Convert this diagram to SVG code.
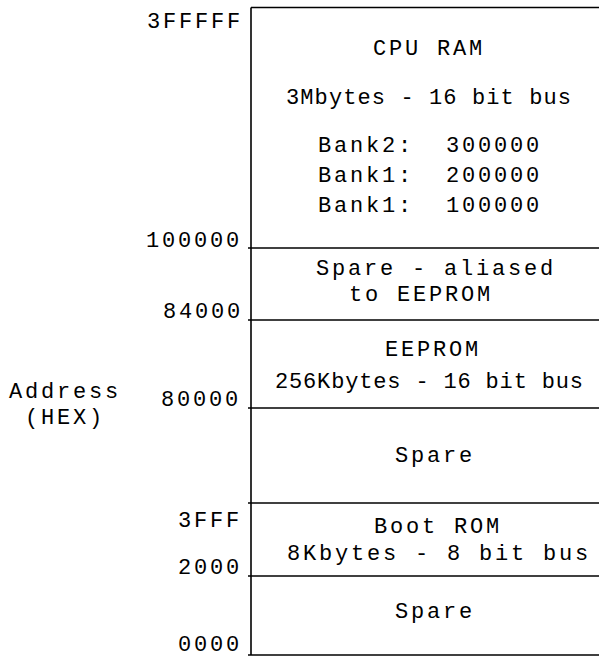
<svg xmlns="http://www.w3.org/2000/svg" width="599" height="658" viewBox="0 0 599 658">
<style>
text{font-family:"Liberation Mono","Courier New",monospace;font-size:22px;fill:#000;letter-spacing:2.8px}
text.tight{letter-spacing:0}
line{stroke:#000;stroke-width:1.6}
</style>
<rect width="599" height="658" fill="#fff"/>
<g id="axis">
<text x="9" y="398">Address</text>
<text x="25" y="424">(HEX)</text>
<text x="147" y="28">3FFFFF</text>
<text x="146" y="247">100000</text>
<text x="163" y="318">84000</text>
<text x="161" y="406">80000</text>
<text x="178" y="527">3FFF</text>
<text x="178" y="574">2000</text>
<text x="178" y="651">0000</text>
</g>
<g id="connectors">
<line x1="251" y1="7.5" x2="251" y2="655"/>
<line x1="251" y1="7.5" x2="599" y2="7.5"/>
<line x1="248" y1="248" x2="599" y2="248"/>
<line x1="248" y1="320" x2="599" y2="320"/>
<line x1="248" y1="408" x2="599" y2="408"/>
<line x1="248" y1="503" x2="599" y2="503"/>
<line x1="248" y1="576" x2="599" y2="576"/>
<line x1="248" y1="655" x2="599" y2="655"/>
</g>
<g id="cpu-ram">
<text x="373" y="55">CPU RAM</text>
<text class="tight" x="286" y="104" textLength="285" lengthAdjust="spacing">3Mbytes - 16 bit bus</text>
<text x="318" y="152" xml:space="preserve">Bank2:  300000</text>
<text x="318" y="182" xml:space="preserve">Bank1:  200000</text>
<text x="318" y="212" xml:space="preserve">Bank1:  100000</text>
</g>
<g id="spare-aliased">
<text x="316" y="275">Spare - aliased</text>
<text x="349" y="301">to EEPROM</text>
</g>
<g id="eeprom">
<text x="385" y="356">EEPROM</text>
<text class="tight" x="275" y="388" textLength="308" lengthAdjust="spacing">256Kbytes - 16 bit bus</text>
</g>
<g id="spare-upper">
<text x="395" y="462">Spare</text>
</g>
<g id="boot-rom">
<text x="374" y="533">Boot ROM</text>
<text x="287" y="560">8Kbytes - 8 bit bus</text>
</g>
<g id="spare-lower">
<text x="395" y="618">Spare</text>
</g>
</svg>
